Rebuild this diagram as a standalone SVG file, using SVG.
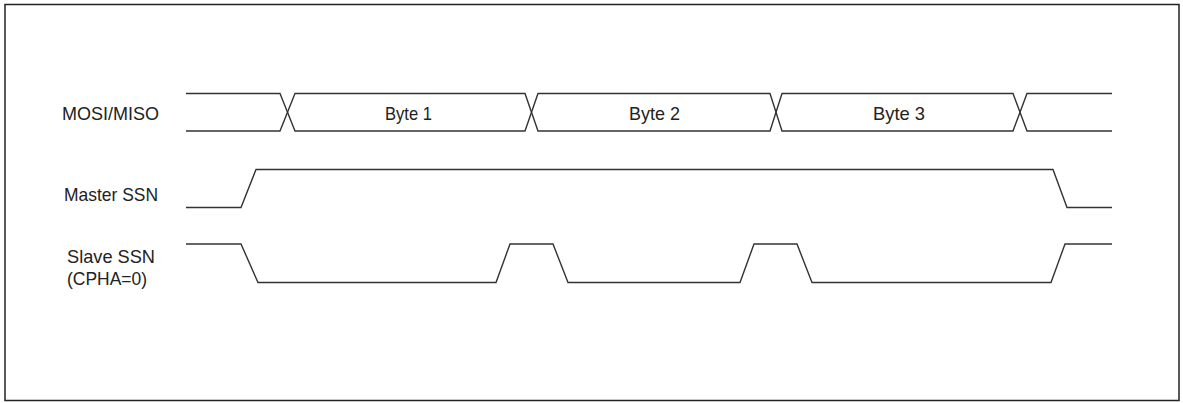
<svg xmlns="http://www.w3.org/2000/svg" width="1183" height="403" viewBox="0 0 1183 403">
  <style>
    .sig { fill: none; stroke: #333; stroke-width: 1.4; stroke-linejoin: miter; }
    .lbl { font-family: "Liberation Sans", Arial, sans-serif; font-size: 19px; fill: #222; }
    .byte { text-anchor: middle; }
  </style>
  <rect x="0" y="0" width="1183" height="403" fill="#fff"/>
  <rect id="frame" x="5" y="4.5" width="1174" height="396" fill="none" stroke="#222" stroke-width="1.5"/>
  <g id="labels">
    <text id="label-mosi" class="lbl" x="62" y="119.5" textLength="97" lengthAdjust="spacingAndGlyphs">MOSI/MISO</text>
    <text id="label-master" class="lbl" x="64" y="200.5" textLength="94" lengthAdjust="spacingAndGlyphs">Master SSN</text>
    <text id="label-slave" class="lbl" x="67" y="263" textLength="88" lengthAdjust="spacingAndGlyphs">Slave SSN</text>
    <text id="label-cpha" class="lbl" x="67" y="285" textLength="80" lengthAdjust="spacingAndGlyphs">(CPHA=0)</text>
  </g>
  <g id="signals">
    <g id="mosi-bus">
      <path class="sig" d="M186,93.5 H280 L295,131 H525 L538,93.5 H770 L782,131 H1013 L1027,93.5 H1112"/>
      <path class="sig" d="M186,131 H280 L295,93.5 H525 L538,131 H770 L782,93.5 H1013 L1027,131 H1112"/>
    </g>
    <g id="master-ssn">
      <path class="sig" d="M186,207.5 H241 L256,169.5 H1053 L1067,207.5 H1112"/>
    </g>
    <g id="slave-ssn">
      <path class="sig" d="M186,244 H241 L258,282.5 H496 L510,244 H553 L568,282.5 H740 L754,244 H797 L812,282.5 H1051 L1065,244 H1112"/>
    </g>
  </g>
  <g id="byte-labels">
    <text id="byte1" class="lbl" x="385" y="119.5" textLength="47" lengthAdjust="spacingAndGlyphs">Byte 1</text>
    <text id="byte2" class="lbl" x="629" y="119.5" textLength="51" lengthAdjust="spacingAndGlyphs">Byte 2</text>
    <text id="byte3" class="lbl" x="873" y="119.5" textLength="52" lengthAdjust="spacingAndGlyphs">Byte 3</text>
  </g>
</svg>
